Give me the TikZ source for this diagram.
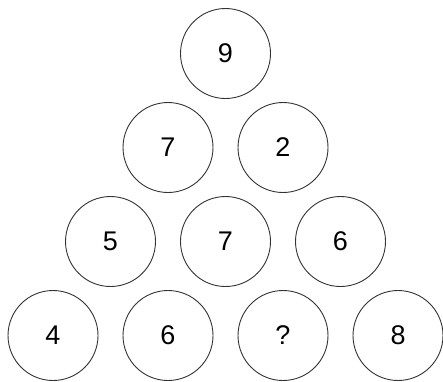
\documentclass[tikz,border=0pt]{standalone}
\usepackage{fontspec}
\setmainfont{Liberation Sans}
\usetikzlibrary{positioning}
\definecolor{cline}{HTML}{333333}
\tikzset{
  every picture/.style={x=1pt, y=-1pt, line width=0.9pt},
  ball/.style={circle, draw=cline, minimum size=90pt, inner sep=0pt, font=\fontsize{27}{32}\selectfont},
}
\begin{document}
\begin{tikzpicture}
  \useasboundingbox (0,0) rectangle (443,381);
  \foreach \r/\labels in {0/{9}, 1/{7,2}, 2/{5,7,6}, 3/{4,6,?,8}} {
    \foreach \t [count=\i from 0] in \labels {
      \node[ball] (n\r\i) at ({225.5+115*(\i-\r/2)},{53.5+94*\r}) {\t};
    }
  }
\end{tikzpicture}
\end{document}
